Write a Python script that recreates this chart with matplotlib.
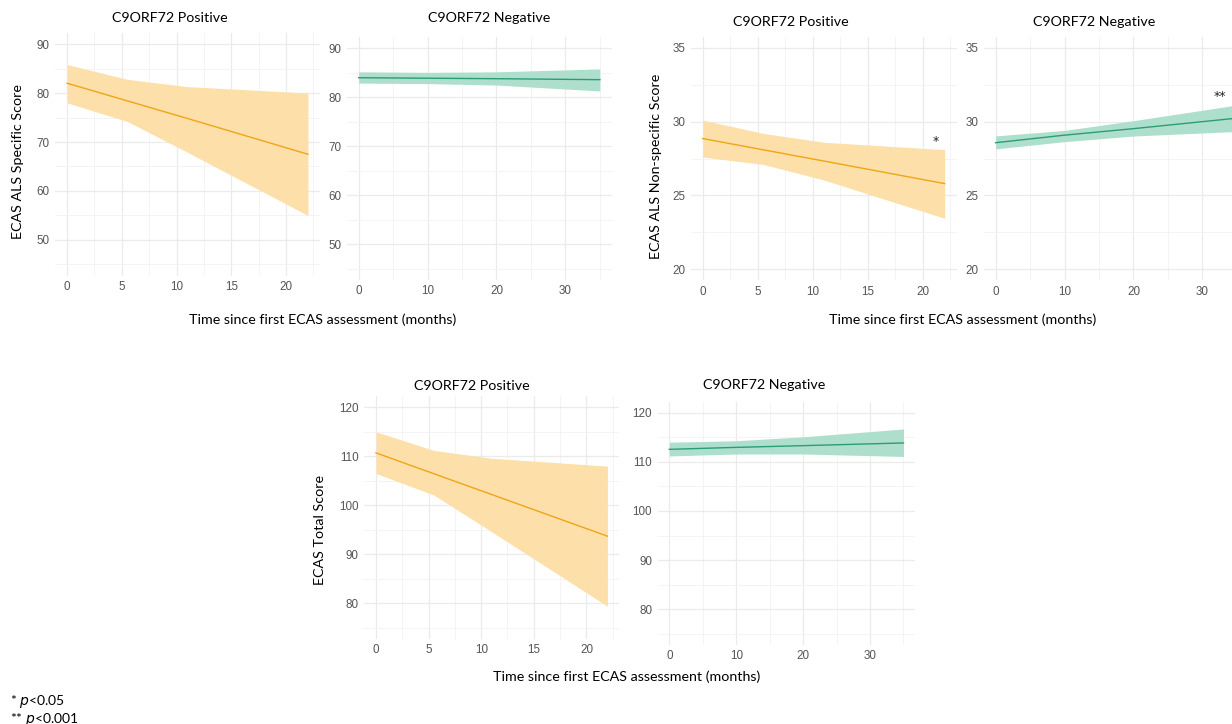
import matplotlib
matplotlib.use('Agg')
import matplotlib.pyplot as plt
from matplotlib.ticker import MultipleLocator

# ---------------- data ----------------
# ECAS ALS Specific Score
spec_pos_x = [0, 5.5, 11, 22]
spec_pos_fit = [82.0, 78.4, 74.8, 67.5]
spec_pos_lo = [78.0, 74.2, 67.9, 55.0]
spec_pos_hi = [85.8, 82.8, 81.3, 80.0]

spec_neg_x = [0, 10, 20, 35]
spec_neg_fit = [84.0, 83.9, 83.8, 83.6]
spec_neg_lo = [82.9, 82.8, 82.5, 81.3]
spec_neg_hi = [85.2, 85.1, 85.2, 85.8]

# ECAS ALS Non-specific Score
nons_pos_x = [0, 5.5, 11, 22]
nons_pos_fit = [28.85, 28.09, 27.33, 25.8]
nons_pos_lo = [27.6, 27.1, 26.05, 23.45]
nons_pos_hi = [30.1, 29.2, 28.6, 28.1]

nons_neg_x = [0, 10, 20, 35]
nons_neg_fit = [28.57, 29.08, 29.52, 30.23]
nons_neg_lo = [28.15, 28.64, 29.02, 29.33]
nons_neg_hi = [29.03, 29.4, 30.06, 31.12]

# ECAS Total Score
tot_pos_x = [0, 5.5, 11, 22]
tot_pos_fit = [110.7, 106.45, 102.2, 93.7]
tot_pos_lo = [106.5, 102.1, 94.6, 79.4]
tot_pos_hi = [115.0, 111.2, 109.6, 108.0]

tot_neg_x = [0, 10, 20, 35]
tot_neg_fit = [112.55, 112.95, 113.3, 113.85]
tot_neg_lo = [111.2, 111.6, 111.6, 111.1]
tot_neg_hi = [114.0, 114.3, 115.1, 116.7]

titles = ["C9ORF72 Positive", "C9ORF72 Negative"]
ylabels = ["ECAS ALS Specific Score", "ECAS ALS Non-specific Score", "ECAS Total Score"]
xlabel = "Time since first ECAS assessment (months)"

# ---------------- style ----------------
W, H = 1232, 724
fig = plt.figure(figsize=(W / 100, H / 100), dpi=100)

POS_LINE, POS_FILL = "#EFA516", "#FDDFAA"
NEG_LINE, NEG_FILL = "#2A9D76", "#AEDFCC"
TITLE_FONT = "Lato"
TICK_FONT = "Liberation Sans"


def px_axes(l, t, r, b):
    return fig.add_axes([l / W, 1 - b / H, (r - l) / W, (b - t) / H])


def fig_text(x, y, s, **kw):
    fig.text(x / W, 1 - y / H, s, **kw)


def style(ax, xlim, ylim, xmaj, ymaj):
    ax.set_xlim(*xlim)
    ax.set_ylim(*ylim)
    ax.xaxis.set_major_locator(MultipleLocator(xmaj))
    ax.xaxis.set_minor_locator(MultipleLocator(xmaj / 2))
    ax.yaxis.set_major_locator(MultipleLocator(ymaj))
    ax.yaxis.set_minor_locator(MultipleLocator(ymaj / 2))
    for s in ax.spines.values():
        s.set_visible(False)
    ax.grid(True, which="major", color="#EBEBEB", lw=0.9)
    ax.grid(True, which="minor", color="#F3F3F3", lw=0.6)
    ax.set_axisbelow(True)
    ax.tick_params(which="both", length=0)
    ax.tick_params(axis="x", pad=4)
    ax.tick_params(axis="y", pad=4)
    for lab in ax.get_xticklabels() + ax.get_yticklabels():
        lab.set_fontfamily(TICK_FONT)
        lab.set_fontsize(8.4)
        lab.set_color("#555555")
    ax.set_facecolor("white")


def draw(ax, x, fit, lo, hi, line, fill):
    ax.fill_between(x, lo, hi, color=fill, lw=0)
    ax.plot(x, fit, color=line, lw=1.0)


tkw = dict(family=TITLE_FONT, fontsize=10.3, color="black", ha="center", va="center")

# top-left pair
ax1 = px_axes(55, 33, 320, 275.5)
draw(ax1, spec_pos_x, spec_pos_fit, spec_pos_lo, spec_pos_hi, POS_LINE, POS_FILL)
style(ax1, (-1.1, 23.1), (42.75, 92.25), 5, 10)
ax2 = px_axes(346.6, 37.3, 611.9, 279.8)
draw(ax2, spec_neg_x, spec_neg_fit, spec_neg_lo, spec_neg_hi, NEG_LINE, NEG_FILL)
style(ax2, (-1.75, 36.75), (42.75, 92.25), 10, 10)

# top-right pair
ax3 = px_axes(690.6, 36.6, 956.8, 280.4)
draw(ax3, nons_pos_x, nons_pos_fit, nons_pos_lo, nons_pos_hi, POS_LINE, POS_FILL)
style(ax3, (-1.1, 23.1), (19.25, 35.75), 5, 5)
ax4 = px_axes(983.6, 36.6, 1248.9, 280.4)
draw(ax4, nons_neg_x, nons_neg_fit, nons_neg_lo, nons_neg_hi, NEG_LINE, NEG_FILL)
style(ax4, (-1.75, 36.75), (19.25, 35.75), 10, 5)

# bottom pair
ax5 = px_axes(364.4, 396.3, 619, 638.8)
draw(ax5, tot_pos_x, tot_pos_fit, tot_pos_lo, tot_pos_hi, POS_LINE, POS_FILL)
style(ax5, (-1.1, 23.1), (72.75, 122.25), 5, 10)
ax6 = px_axes(657.6, 401.7, 915.2, 644.8)
draw(ax6, tot_neg_x, tot_neg_fit, tot_neg_lo, tot_neg_hi, NEG_LINE, NEG_FILL)
style(ax6, (-1.75, 36.75), (72.75, 122.25), 10, 10)

# titles
fig_text(170, 18, titles[0], **tkw)
fig_text(489, 18, titles[1], **tkw)
fig_text(791, 22.5, titles[0], **tkw)
fig_text(1094.5, 22, titles[1], **tkw)
fig_text(472, 386, titles[0], **tkw)
fig_text(764, 385, titles[1], **tkw)

# y labels
ykw = dict(family=TITLE_FONT, fontsize=10.3, color="black", ha="center", va="center", rotation=90)
fig_text(18.5, 162, ylabels[0], **ykw)
fig_text(656, 166, ylabels[1], **ykw)
fig_text(319.5, 530, ylabels[2], **ykw)

# x labels
fig_text(323, 320, xlabel, **tkw)
fig_text(963, 320, xlabel, **tkw)
fig_text(627, 676.5, xlabel, **tkw)

# significance markers
skw = dict(family="DejaVu Sans", fontsize=9, ha="center", va="center", color="#222222")
ax3.text(21.2, 28.65, "*", **skw)
ax4.text(32.6, 31.7, "**", **skw)

# footnote
fkw = dict(family=TITLE_FONT, fontsize=10, color="black", ha="left", va="center")
fig.text(10 / W, 1 - 702 / H, r"* $\it{p}$<0.05", **fkw)
fig.text(10 / W, 1 - 719 / H, r"** $\it{p}$<0.001", **fkw)

fig.savefig("out.png", dpi=100, facecolor="white")
